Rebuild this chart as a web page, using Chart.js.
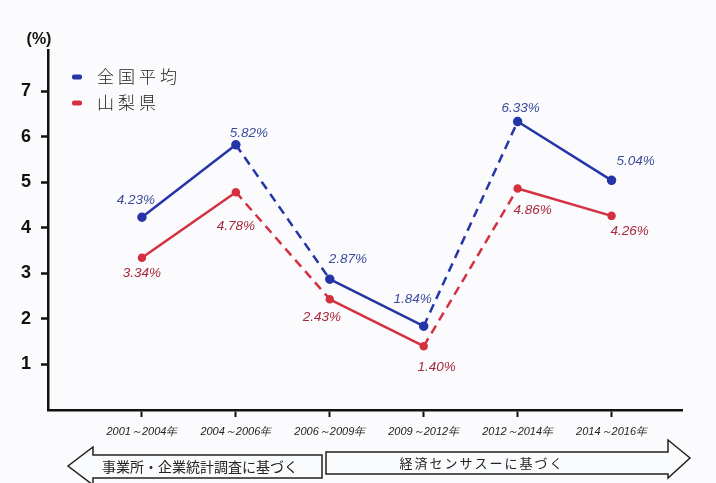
<!DOCTYPE html>
<html><head><meta charset="utf-8">
<script src="https://cdn.jsdelivr.net/npm/chart.js@4"></script>
<style>html,body{margin:0;padding:0;background:#fbfbfd;}#wrap{width:716px;height:483px;}</style>
</head><body><div id="wrap"><canvas id="c" width="716" height="483"></canvas></div>
<script>
const categories = ['2001～2004年','2004～2006年','2006～2009年','2009～2012年','2012～2014年','2014～2016年'];
const seriesNames = ['全国平均','山梨県'];
const nationalValues = [4.23, 5.82, 2.87, 1.84, 6.33, 5.04];
const yamanashiValues = [3.34, 4.78, 2.43, 1.40, 4.86, 4.26];
const yTickValues = [1,2,3,4,5,6,7];
const periodNames = ['事業所・企業統計調査に基づく','経済センサスーに基づく'];

const BLUE = '#2535a8', RED = '#d43040';
const BLUE_T = '#3c4c9c', RED_T = '#a52a3c';
const dashed = ctx => (ctx.p0DataIndex === 1 || ctx.p0DataIndex === 3) ? [9, 6] : undefined;
const toPts = arr => arr.map((v, i) => ({x: i + 1, y: v}));

const labelPlugin = {
  id: 'labels',
  afterDatasetsDraw(chart) {
    const ctx = chart.ctx;
    const offs = [
      [[-6,-17],[13,-12],[18,-20],[-11,-27],[3,-13],[24,-19]],
      [[0,15],[0,34],[-8,18],[13,21],[15,22],[18,15]]
    ];
    const cols = [BLUE_T, RED_T];
    ctx.save();
    ctx.font = 'italic 13.5px "Liberation Sans"';
    ctx.textAlign = 'center';
    ctx.textBaseline = 'middle';
    chart.data.datasets.forEach((ds, di) => {
      const meta = chart.getDatasetMeta(di);
      meta.data.forEach((pt, i) => {
        ctx.fillStyle = cols[di];
        ctx.fillText(ds.data[i].y.toFixed(2) + '%', pt.x + offs[di][i][0], pt.y + offs[di][i][1]);
      });
    });
    ctx.restore();
  },
  afterDraw(chart) {
    const ctx = chart.ctx;
    ctx.save();
    ctx.fillStyle = '#111';
    ctx.font = 'bold 16px "Liberation Sans"';
    ctx.textAlign = 'center'; ctx.textBaseline = 'middle';
    ctx.fillText('(%)', 39, 40);
    const cols = [BLUE, RED];
    seriesNames.forEach((n, i) => {
      const y = 77 + i * 26;
      ctx.fillStyle = cols[i];
      ctx.beginPath(); ctx.roundRect(72, y - 2.5, 10, 5, 2); ctx.fill();
      ctx.fillStyle = '#222';
      ctx.font = '300 17px "Noto Sans CJK JP"';
      ctx.textAlign = 'left';
      ctx.letterSpacing = '4px';
      ctx.fillText(n, 97, y);
    });
    ctx.letterSpacing = '0px';
    ctx.strokeStyle = '#222'; ctx.lineWidth = 1.5; ctx.fillStyle = '#fafbfd';
    ctx.beginPath();
    ctx.moveTo(322, 455); ctx.lineTo(93, 455); ctx.lineTo(93, 447); ctx.lineTo(68, 466);
    ctx.lineTo(93, 485); ctx.lineTo(93, 478); ctx.lineTo(322, 478); ctx.closePath();
    ctx.fill(); ctx.stroke();
    ctx.beginPath();
    ctx.moveTo(326, 452); ctx.lineTo(668, 452); ctx.lineTo(668, 440); ctx.lineTo(690, 458);
    ctx.lineTo(668, 478); ctx.lineTo(668, 474); ctx.lineTo(326, 474); ctx.closePath();
    ctx.fill(); ctx.stroke();
    ctx.fillStyle = '#222';
    ctx.font = '14px "Noto Sans CJK JP"';
    ctx.textAlign = 'center';
    ctx.fillText(periodNames[0], 200, 467);
    ctx.font = '13px "Noto Sans CJK JP"';
    ctx.letterSpacing = '2px';
    ctx.fillText(periodNames[1], 482, 463);
    ctx.restore();
  }
};

new Chart(document.getElementById('c'), {
  type: 'line',
  data: {
    datasets: [
      {label: seriesNames[0], data: toPts(nationalValues), borderColor: BLUE, backgroundColor: BLUE,
       borderWidth: 2.5, pointRadius: 3.5, pointBackgroundColor: BLUE, segment: {borderDash: dashed}},
      {label: seriesNames[1], data: toPts(yamanashiValues), borderColor: RED, backgroundColor: RED,
       borderWidth: 2.5, pointRadius: 3, pointBackgroundColor: RED, segment: {borderDash: dashed}}
    ]
  },
  options: {
    responsive: false, animation: false,
    layout: {padding: {top: 50, right: 34, left: 0, bottom: 0}},
    plugins: {legend: {display: false}, tooltip: {enabled: false}},
    scales: {
      x: {
        type: 'linear', min: 0, max: 6.75,
        afterBuildTicks: s => { s.ticks = categories.map((c, i) => ({value: i + 1})); },
        afterFit: s => { s.height = 73; },
        border: {color: '#111', width: 2.5},
        grid: {drawOnChartArea: false, drawTicks: true, tickLength: 7, tickWidth: 2, tickColor: '#111'},
        ticks: {padding: 8, color: '#222', font: {family: 'Liberation Sans', style: 'italic', size: 11},
                callback: v => categories[v - 1] || '', maxRotation: 0, autoSkip: false}
      },
      y: {
        min: 0, max: 7.9,
        afterBuildTicks: s => { s.ticks = yTickValues.map(v => ({value: v})); },
        afterFit: s => { s.width = 48; },
        border: {color: '#111', width: 2.5},
        grid: {drawOnChartArea: false, drawTicks: true, tickLength: 7, tickWidth: 2.5, tickColor: '#111'},
        ticks: {padding: 10, color: '#111', font: {family: 'Liberation Sans', weight: 'bold', size: 18},
                callback: v => String(v)}
      }
    }
  },
  plugins: [labelPlugin]
});
</script></body></html>
